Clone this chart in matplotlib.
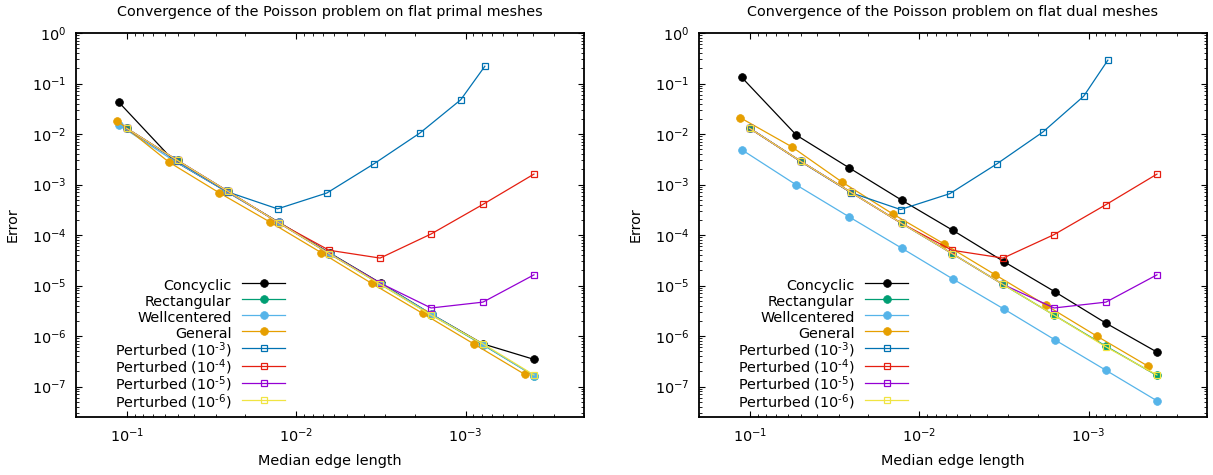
"""
Convergence of the Poisson problem on flat primal and dual meshes.
Log-log error vs median edge length, x axis reversed (finer meshes to the right).
"""
import matplotlib
matplotlib.use("Agg")
import matplotlib.pyplot as plt
from matplotlib.ticker import NullFormatter

# ---- Data ----
# median edge lengths
h_conc = [0.112, 0.0532, 0.0259, 0.0127, 0.00634, 0.00315, 0.00159, 7.9e-4, 3.94e-4]
h_pert = [0.1005, 0.0503, 0.0253, 0.0127, 0.0064, 0.0032, 0.0016, 7.9e-4, 3.95e-4]
h_gen = [0.1146, 0.0567, 0.0286, 0.01435, 0.0071, 0.00358, 0.00179, 8.95e-4, 4.47e-4]
h_p3 = [0.1005, 0.0503, 0.0253, 0.0129, 0.0066, 0.00348, 0.00186, 1.07e-3, 7.7e-4]

# primal meshes
primal_concyclic = [4.3e-2, 3.0e-3, 7.3e-4, 1.8e-4, 4.4e-5, 1.1e-5, 2.7e-6, 7.0e-7, 3.45e-7]
primal_rectangular = [1.3e-2, 3.0e-3, 7.3e-4, 1.75e-4, 4.3e-5, 1.07e-5, 2.65e-6, 6.7e-7, 1.65e-7]
primal_wellcentered = [1.52e-2, 3.0e-3, 7.3e-4, 1.78e-4, 4.3e-5, 1.07e-5, 2.7e-6, 6.8e-7, 1.62e-7]
primal_general = [1.85e-2, 2.8e-3, 6.9e-4, 1.82e-4, 4.45e-5, 1.1e-5, 2.8e-6, 7.0e-7, 1.74e-7]
primal_p3 = [1.29e-2, 2.9e-3, 7.1e-4, 3.3e-4, 6.8e-4, 2.57e-3, 1.05e-2, 4.75e-2, 0.22]
primal_p4 = [1.3e-2, 3.0e-3, 7.3e-4, 1.75e-4, 5.0e-5, 3.5e-5, 1.05e-4, 4.05e-4, 1.61e-3]
primal_p5 = [1.3e-2, 3.0e-3, 7.3e-4, 1.75e-4, 4.3e-5, 1.12e-5, 3.6e-6, 4.7e-6, 1.63e-5]
primal_p6 = [1.3e-2, 3.0e-3, 7.3e-4, 1.75e-4, 4.3e-5, 1.07e-5, 2.6e-6, 7.0e-7, 1.7e-7]

# dual meshes
dual_concyclic = [0.133, 9.5e-3, 2.13e-3, 4.9e-4, 1.24e-4, 2.95e-5, 7.6e-6, 1.8e-6, 4.8e-7]
dual_rectangular = [1.3e-2, 2.9e-3, 7.0e-4, 1.7e-4, 4.3e-5, 1.05e-5, 2.6e-6, 6.3e-7, 1.66e-7]
dual_wellcentered = [4.9e-3, 9.8e-4, 2.28e-4, 5.5e-5, 1.35e-5, 3.4e-6, 8.5e-7, 2.1e-7, 5.2e-8]
dual_general = [2.12e-2, 5.6e-3, 1.12e-3, 2.62e-4, 6.6e-5, 1.65e-5, 4.1e-6, 1.0e-6, 2.55e-7]
dual_p3 = [1.31e-2, 2.87e-3, 6.9e-4, 3.2e-4, 6.6e-4, 2.57e-3, 1.1e-2, 5.6e-2, 0.29]
dual_p4 = [1.3e-2, 2.9e-3, 7.0e-4, 1.7e-4, 5.0e-5, 3.5e-5, 1.02e-4, 4.0e-4, 1.61e-3]
dual_p5 = [1.3e-2, 2.9e-3, 7.0e-4, 1.7e-4, 4.3e-5, 1.05e-5, 3.6e-6, 4.7e-6, 1.63e-5]
dual_p6 = [1.3e-2, 2.9e-3, 7.0e-4, 1.7e-4, 4.3e-5, 1.05e-5, 2.6e-6, 6.1e-7, 1.7e-7]

labels = ["Concyclic", "Rectangular", "Wellcentered", "General",
          r"Perturbed (10$^{\text{-}3}$)", r"Perturbed (10$^{\text{-}4}$)",
          r"Perturbed (10$^{\text{-}5}$)", r"Perturbed (10$^{\text{-}6}$)"]
colors = ["#000000", "#009e73", "#56b4e9", "#e69f00",
          "#0072b2", "#e51e10", "#9400d3", "#f0e442"]
markers = ["o", "o", "o", "o", "s", "s", "s", "s"]

primal = [(h_conc, primal_concyclic), (h_pert, primal_rectangular), (h_conc, primal_wellcentered),
          (h_gen, primal_general), (h_p3, primal_p3), (h_pert, primal_p4),
          (h_pert, primal_p5), (h_pert, primal_p6)]
dual = [(h_conc, dual_concyclic), (h_pert, dual_rectangular), (h_conc, dual_wellcentered),
        (h_gen, dual_general), (h_p3, dual_p3), (h_pert, dual_p4),
        (h_pert, dual_p5), (h_pert, dual_p6)]

FS = 10.4
plt.rcParams["font.family"] = "DejaVu Sans"
plt.rcParams["font.size"] = FS
plt.rcParams["mathtext.default"] = "regular"

fig = plt.figure(figsize=(12.13, 4.75), dpi=100)
ax_l = fig.add_axes([76 / 1213, 58 / 475, 508 / 1213, 384 / 475])
ax_r = fig.add_axes([699 / 1213, 58 / 475, 508 / 1213, 384 / 475])


def draw(ax, series, title):
    for (h, err), lab, col, mk in zip(series, labels, colors, markers):
        if mk == "o":
            ax.plot(h, err, color=col, lw=0.9, marker="o", ms=5.6, mew=0.5,
                    mfc=col, mec=col, label=lab)
        else:
            ax.plot(h, err, color=col, lw=0.9, marker="s", ms=4.9, mew=0.9,
                    mfc="none", mec=col, label=lab)
    ax.set_xscale("log")
    ax.set_yscale("log")
    ax.set_xlim(0.2, 2e-4)
    ax.set_ylim(2.5e-8, 1)
    ax.xaxis.set_minor_formatter(NullFormatter())
    ax.yaxis.set_minor_formatter(NullFormatter())
    ax.set_title(title, fontsize=FS, pad=12.5)
    ax.set_xlabel("Median edge length", labelpad=6.5)
    ax.set_ylabel("Error", labelpad=8.5)
    ax.tick_params(which="both", direction="in", top=True, right=True, labelsize=FS)
    ax.tick_params(which="major", length=4.5, width=0.8, pad=7)
    ax.tick_params(which="minor", length=2.2, width=0.6)
    for sp in ax.spines.values():
        sp.set_linewidth(1.3)
    # tall handle boxes give every legend row the same height
    ax.legend(loc="lower right", bbox_to_anchor=(0.412, 0.014), frameon=False,
              markerfirst=False, handlelength=3.0, handletextpad=0.72,
              handleheight=1.6, labelspacing=-0.17, borderpad=0, borderaxespad=0,
              fontsize=FS)


draw(ax_l, primal, "Convergence of the Poisson problem on flat primal meshes")
draw(ax_r, dual, "Convergence of the Poisson problem on flat dual meshes")

fig.savefig("out.png", dpi=100)
